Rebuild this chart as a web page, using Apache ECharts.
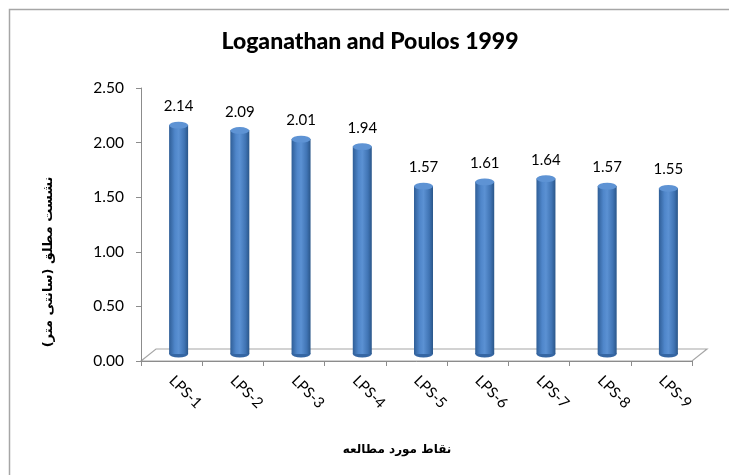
<!DOCTYPE html>
<html><head><meta charset="utf-8">
<script src="https://cdn.jsdelivr.net/npm/echarts@6/dist/echarts.min.js"></script>
<style>html,body{margin:0;padding:0;background:#fff}#c{width:729px;height:475px}</style>
</head><body><div id="c"></div>
<script>
const categories = ['LPS-1','LPS-2','LPS-3','LPS-4','LPS-5','LPS-6','LPS-7','LPS-8','LPS-9'];
const values = [2.14, 2.09, 2.01, 1.94, 1.57, 1.61, 1.64, 1.57, 1.55];
const yMin = 0, yMax = 2.5, yStep = 0.5;
const titleText = 'Loganathan and Poulos 1999';
const yName = 'نشست مطلق (سانتی متر)';
const xName = 'نقاط مورد مطالعه';

const chart = echarts.init(document.getElementById('c'), null, {renderer:'canvas'});
const F = 'Lato, "Open Sans", sans-serif';
const AR = '"DejaVu Sans", sans-serif';
const axisGray = '#8C8C8C';
const cyl = new echarts.graphic.LinearGradient(0,0,1,0,[
  {offset:0, color:'#2F5E97'},
  {offset:0.3, color:'#4F86CA'},
  {offset:0.5, color:'#5B91D3'},
  {offset:0.8, color:'#4074B4'},
  {offset:1, color:'#2A5689'}
]);
const option = {
  animation:false,
  grid:[
    {left:148, right:30, top:86.5, bottom:121},
    {left:141, right:37, top:88, bottom:114}
  ],
  xAxis:[
    {gridIndex:0, type:'category', data:categories, show:false},
    {gridIndex:1, type:'category', data:categories,
     axisLine:{show:true, lineStyle:{color:axisGray}},
     axisTick:{show:true, length:5, lineStyle:{color:axisGray}},
     axisLabel:{rotate:-45, margin:17, fontFamily:F, fontSize:15, color:'#000'},
     z:0}
  ],
  yAxis:[
    {gridIndex:0, type:'value', min:yMin, max:yMax, interval:yStep, show:false},
    {gridIndex:1, type:'value', min:yMin, max:yMax, interval:yStep,
     axisLine:{show:true, lineStyle:{color:axisGray}},
     axisTick:{show:true, length:5, lineStyle:{color:axisGray}},
     splitLine:{show:false},
     axisLabel:{margin:17, fontFamily:F, fontSize:15.5, color:'#000', formatter:v=>v.toFixed(2)}}
  ],
  series:[
    {type:'pictorialBar', xAxisIndex:0, yAxisIndex:0, data:values, symbol:'circle',
     symbolSize:[19,7], symbolOffset:[0,'50%'], barGap:'-100%', z:2,
     itemStyle:{color:'#3566A3'}},
    {type:'bar', xAxisIndex:0, yAxisIndex:0, data:values, barWidth:19, z:3,
     itemStyle:{color:cyl},
     label:{show:true, position:'top', distance:11, fontFamily:F, fontSize:15, color:'#000',
            formatter:p=>p.value.toFixed(2)}},
    {type:'pictorialBar', xAxisIndex:0, yAxisIndex:0, data:values, symbol:'circle',
     symbolSize:[19,7], symbolPosition:'end', symbolOffset:[0,'-50%'], barGap:'-100%', z:4,
     itemStyle:{color:'#5E93D4', borderColor:'#3A6BA8', borderWidth:0.8}}
  ],
  graphic:[
    {type:'rect', shape:{x:9.5, y:9.5, width:800, height:600}, style:{fill:null, stroke:'#A6A6A6', lineWidth:1.5}, silent:true, z:-10},
    {type:'text', x:370, y:42, style:{text:titleText, font:'900 23px '+F, fill:'#000', textAlign:'center', textVerticalAlign:'middle'}},
    {type:'text', x:49, y:262, rotation:Math.PI/2, style:{text:yName, font:'bold 13px '+AR, fill:'#000', textAlign:'center', textVerticalAlign:'middle'}},
    {type:'text', x:397, y:450, style:{text:xName, font:'bold 12px '+AR, fill:'#000', textAlign:'center', textVerticalAlign:'middle'}}
  ]
};
chart.setOption(option);

// 3D floor computed from the front axis scale
const p0 = chart.convertToPixel({xAxisIndex:1, yAxisIndex:1}, [0, 0]);
const p1 = chart.convertToPixel({xAxisIndex:1, yAxisIndex:1}, [categories.length-1, 0]);
const band = (p1[0]-p0[0])/(categories.length-1);
const fl = p0[0]-band/2, fr = p1[0]+band/2, fy = p0[1];
const dx = 15, dy = -12;
chart.setOption({graphic: option.graphic.concat([
  {type:'polygon', shape:{points:[[fl,fy],[fl+dx,fy+dy],[fr+dx,fy+dy],[fr,fy]]},
   style:{fill:'#fff', stroke:'#A6A6A6', lineWidth:1.2}, z:-1, silent:true}
])});
</script></body></html>
